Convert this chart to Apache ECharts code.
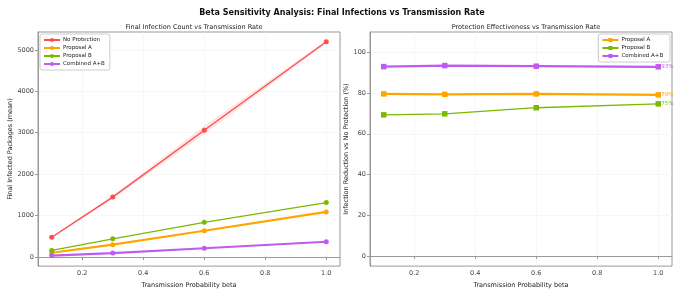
<!DOCTYPE html>
<html>
<head>
<meta charset="utf-8">
<script src="https://cdn.jsdelivr.net/npm/echarts@6/dist/echarts.min.js"></script>
<style>
html, body { margin: 0; padding: 0; background: #fff; }
#main { width: 684px; height: 294px; }
</style>
</head>
<body>
<div id="main"></div>
<script>
// transmission probability beta
var betas = [0.1, 0.3, 0.6, 1.0];

// final infected packages (mean)
var noProtection = [478, 1445, 3061, 5195];
var noProtLow = [455, 1405, 2960, 5160];
var noProtHigh = [500, 1485, 3160, 5230];
var proposalA = [103, 297, 633, 1087];
var proposalB = [157, 438, 836, 1312];
var combinedAB = [33, 94, 211, 368];

// infection reduction vs no protection (%)
var redA = [79.6, 79.4, 79.6, 79.1];
var redB = [69.3, 69.8, 72.8, 74.7];
var redAB = [93.0, 93.5, 93.2, 92.9];

var xTicks = [0.2, 0.4, 0.6, 0.8, 1.0];
var yTicksLeft = [0, 1000, 2000, 3000, 4000, 5000];
var yTicksRight = [0, 20, 40, 60, 80, 100];

var colors = {
	red: '#ff4d4d',
	orange: '#ffa500',
	green: '#7cb800',
	purple: '#c05af0'
};

function pairs(xs, ys) {
	return xs.map(function (x, i) { return [x, ys[i]]; });
}

var font = 'DejaVu Sans';
var tickLabel = { fontSize: 6.5, color: '#444', fontFamily: font };

function xAxisFor(gridIndex) {
	return {
		type: 'value', gridIndex: gridIndex, min: 0.055, max: 1.045,
		name: 'Transmission Probability beta', nameLocation: 'middle', nameGap: 12,
		nameTextStyle: { fontSize: 6.5, color: '#222', fontFamily: font },
		axisLine: { show: true, lineStyle: { color: '#999', width: 1 } },
		axisTick: { show: true, length: 3, customValues: xTicks, lineStyle: { color: '#999' } },
		axisLabel: Object.assign({ customValues: xTicks, margin: 4, formatter: function (v) { return v.toFixed(1); } }, tickLabel),
		splitLine: { show: true, lineStyle: { color: '#f2f2f2', width: 0.6 } }
	};
}

function yAxisFor(gridIndex, min, max, ticks, name, gap) {
	return {
		type: 'value', gridIndex: gridIndex, min: min, max: max,
		name: name, nameLocation: 'middle', nameGap: gap,
		nameTextStyle: { fontSize: 6.5, color: '#222', fontFamily: font },
		axisLine: { show: true, lineStyle: { color: '#999', width: 1 } },
		axisTick: { show: true, length: 3, customValues: ticks, lineStyle: { color: '#999' } },
		axisLabel: Object.assign({ customValues: ticks, margin: 4, formatter: function (v) { return String(v); } }, tickLabel),
		splitLine: { show: true, lineStyle: { color: '#f2f2f2', width: 0.6 } }
	};
}

function leftLine(name, data, color, width) {
	return {
		name: name, type: 'line', xAxisIndex: 0, yAxisIndex: 0,
		data: pairs(betas, data), symbol: 'circle', symbolSize: 5,
		lineStyle: { color: color, width: width }, itemStyle: { color: color },
		z: 5
	};
}

function rightLine(name, data, color, width) {
	return {
		name: name, type: 'line', xAxisIndex: 1, yAxisIndex: 1,
		data: pairs(betas, data), symbol: 'rect', symbolSize: 5.5,
		lineStyle: { color: color, width: width }, itemStyle: { color: color },
		endLabel: {
			show: true, distance: 3, fontSize: 5.5, color: color, fontFamily: font,
			formatter: function (p) { return Math.round(p.value[1]) + '%'; }
		},
		z: 5
	};
}

var chart = echarts.init(document.getElementById('main'));
var option = {
	animation: false,
	backgroundColor: '#fff',
	textStyle: { fontFamily: font },
	title: [
		{ text: 'Beta Sensitivity Analysis: Final Infections vs Transmission Rate', left: 'center', top: 4,
		  textStyle: { fontSize: 8, fontWeight: 'bold', color: '#111', fontFamily: font } },
		{ text: 'Final Infection Count vs Transmission Rate', left: 189, textAlign: 'center', top: 19,
		  textStyle: { fontSize: 6.5, fontWeight: 'normal', color: '#222', fontFamily: font } },
		{ text: 'Protection Effectiveness vs Transmission Rate', left: 521, textAlign: 'center', top: 19,
		  textStyle: { fontSize: 6.5, fontWeight: 'normal', color: '#222', fontFamily: font } }
	],
	grid: [
		{ left: 38, top: 32, width: 302, height: 241, show: true, borderColor: '#999', borderWidth: 1 },
		{ left: 370, top: 32, width: 302, height: 241, show: true, borderColor: '#999', borderWidth: 1 }
	],
	legend: [
		{
			data: ['No Protection', 'Proposal A', 'Proposal B', 'Combined A+B'],
			orient: 'vertical', left: 40, top: 34, itemWidth: 16, itemHeight: 5, itemGap: 2,
			padding: [3, 5, 3, 3], borderColor: '#ccc', borderWidth: 1, borderRadius: 2, backgroundColor: '#fff',
			textStyle: { fontSize: 5.5, color: '#222', fontFamily: font, padding: [0, 0, 0, -2] }
		},
		{
			data: ['Proposal A ', 'Proposal B ', 'Combined A+B '],
			orient: 'vertical', right: 14, top: 34, itemWidth: 16, itemHeight: 5, itemGap: 2,
			padding: [3, 5, 3, 3], borderColor: '#ccc', borderWidth: 1, borderRadius: 2, backgroundColor: '#fff',
			textStyle: { fontSize: 5.5, color: '#222', fontFamily: font, padding: [0, 0, 0, -2] }
		}
	],
	xAxis: [xAxisFor(0), xAxisFor(1)],
	yAxis: [
		yAxisFor(0, -220, 5430, yTicksLeft, 'Final Infected Packages (mean)', 20),
		yAxisFor(1, -5, 110, yTicksRight, 'Infection Reduction vs No Protection (%)', 16)
	],
	series: [
		{
			// spread band around the no-protection mean
			name: 'band', type: 'custom', xAxisIndex: 0, yAxisIndex: 0, silent: true, z: 2,
			data: [0],
			renderItem: function (params, api) {
				var pts = [];
				betas.forEach(function (b, i) { pts.push(api.coord([b, noProtHigh[i]])); });
				for (var i = betas.length - 1; i >= 0; i--) pts.push(api.coord([betas[i], noProtLow[i]]));
				return { type: 'polygon', shape: { points: pts }, style: { fill: 'rgba(255,77,77,0.15)' } };
			}
		},
		leftLine('No Protection', noProtection, colors.red, 1.3),
		leftLine('Proposal A', proposalA, colors.orange, 2.2),
		leftLine('Proposal B', proposalB, colors.green, 1.3),
		leftLine('Combined A+B', combinedAB, colors.purple, 2.2),
		rightLine('Proposal A ', redA, colors.orange, 2.2),
		rightLine('Proposal B ', redB, colors.green, 1.3),
		(function () {
			var s = rightLine('Combined A+B ', redAB, colors.purple, 2.2);
			s.markLine = {
				silent: true, symbol: 'none', label: { show: false },
				lineStyle: { color: '#999', type: 'dashed', width: 0.7 },
				data: [{ yAxis: 0 }]
			};
			return s;
		})()
	]
};
chart.setOption(option);
</script>
</body>
</html>
